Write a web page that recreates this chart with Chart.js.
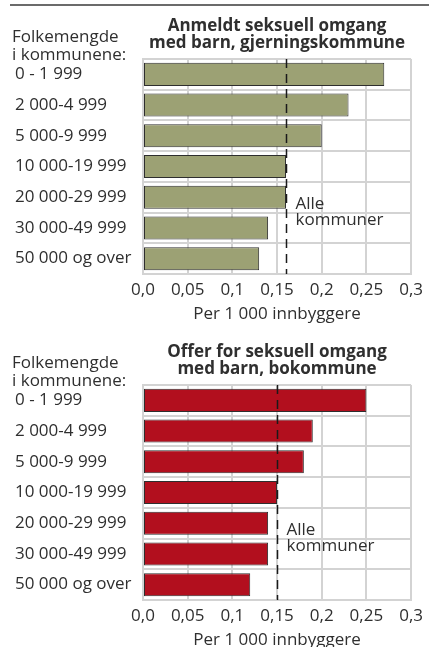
<!DOCTYPE html>
<html lang="no">
<head>
  <meta charset="UTF-8">
  <title>Seksuell omgang med barn</title>
  <script src="https://cdn.jsdelivr.net/npm/chart.js"></script>
  <style>
    body {
      margin: 0;
      padding: 0;
      background: #fff;
      width: 429px;
      height: 647px;
      overflow: hidden;
      position: relative;
      font-family: "Open Sans", sans-serif;
    }
    .rule {
      position: absolute;
      left: 10px;
      right: 0;
      top: 4px;
      height: 2px;
      background: #6b6b6b;
    }
    .chart-box {
      position: absolute;
      left: 0;
      width: 429px;
      height: 326px;
    }
  </style>
</head>
<body>
  <div class="rule"></div>
  <div class="chart-box" style="top: 0;"><canvas id="anmeldtChart"></canvas></div>
  <div class="chart-box" style="top: 326px;"><canvas id="offerChart"></canvas></div>

  <script>
    // data
    const categories = ['0 - 1 999', '2 000-4 999', '5 000-9 999', '10 000-19 999',
      '20 000-29 999', '30 000-49 999', '50 000 og over'];
    const anmeldtValues = [0.27, 0.23, 0.20, 0.16, 0.16, 0.14, 0.13];
    const offerValues = [0.25, 0.19, 0.18, 0.15, 0.14, 0.14, 0.12];
    const anmeldtAlle = 0.16;
    const offerAlle = 0.15;
    const xTicks = [0, 0.05, 0.1, 0.15, 0.2, 0.25, 0.3];
    const xTickLabels = ['0,0', '0,05', '0,1', '0,15', '0,2', '0,25', '0,3'];
    const anmeldtTitle = ['Anmeldt seksuell omgang', 'med barn, gjerningskommune'];
    const offerTitle = ['Offer for seksuell omgang', 'med barn, bokommune'];
    const leftHeading = ['Folkemengde', 'i kommunene:'];
    const alleLabel = ['Alle', 'kommuner'];
    const xTitle = 'Per 1 000 innbyggere';

    const FONT = '"Open Sans", sans-serif';
    const TEXT = '#2f2f2f';
    const GRID = '#d3d3d3';

    // tegner overskrift, venstre overskrift, stiplet linje og "Alle kommuner"
    const extras = {
      id: 'extras',
      afterDatasetsDraw(chart, args, opts) {
        const ctx = chart.ctx;
        const area = chart.chartArea;
        const x = chart.scales.x;
        ctx.save();

        // stiplet linje for alle kommuner
        const px = Math.round(x.getPixelForValue(opts.alle)) + 0.5;
        ctx.strokeStyle = '#1a1a1a';
        ctx.lineWidth = 1.5;
        ctx.setLineDash([9, 6]);
        ctx.beginPath();
        ctx.moveTo(px, area.top);
        ctx.lineTo(px, area.bottom);
        ctx.stroke();
        ctx.setLineDash([]);

        ctx.fillStyle = TEXT;
        ctx.textBaseline = 'middle';

        ctx.font = '17px ' + FONT;
        ctx.textAlign = 'left';
        ctx.fillText(alleLabel[0], px + 9, area.top + 145);
        ctx.fillText(alleLabel[1], px + 9, area.top + 161);

        ctx.fillText(leftHeading[0], 12, area.top - 22);
        ctx.fillText(leftHeading[1], 12, area.top - 4);

        ctx.font = 'bold 17px ' + FONT;
        ctx.textAlign = 'center';
        const cx = (area.left + area.right) / 2;
        ctx.fillText(opts.title[0], cx, area.top - 33);
        ctx.fillText(opts.title[1], cx, area.top - 16);
        ctx.restore();
      }
    };

    function makeChart(id, values, color, alle, title) {
      const ctx = document.getElementById(id).getContext('2d');
      return new Chart(ctx, {
        type: 'bar',
        data: {
          labels: categories,
          datasets: [{
            data: values,
            backgroundColor: color,
            borderColor: '#2e2e2e',
            borderWidth: 1,
            borderSkipped: false,
            categoryPercentage: 1,
            barPercentage: 0.75
          }]
        },
        options: {
          indexAxis: 'y',
          responsive: false,
          animation: false,
          maintainAspectRatio: false,
          layout: {
            padding: { top: 59, left: 15, right: 14, bottom: 2 }
          },
          plugins: {
            legend: { display: false },
            tooltip: { enabled: false },
            extras: { alle: alle, title: title }
          },
          scales: {
            x: {
              min: 0,
              max: 0.3,
              afterBuildTicks: function(scale) {
                scale.ticks = xTicks.map(function(v) { return { value: v }; });
              },
              afterFit: function(scale) { scale.height = 50; },
              grid: { color: GRID, lineWidth: 2, drawTicks: false },
              border: { color: GRID, width: 2 },
              ticks: {
                color: TEXT,
                font: { family: FONT, size: 17 },
                padding: 6,
                maxRotation: 0,
                callback: function(v, i) { return xTickLabels[i]; }
              },
              title: {
                display: true,
                text: xTitle,
                color: TEXT,
                font: { family: FONT, size: 17 },
                padding: { top: 0, bottom: 0 }
              }
            },
            y: {
              afterFit: function(scale) { scale.width = 128; },
              grid: { color: GRID, lineWidth: 2, drawTicks: false },
              border: { color: GRID, width: 2 },
              ticks: {
                color: TEXT,
                crossAlign: 'far',
                font: { family: FONT, size: 17 }
              }
            }
          }
        },
        plugins: [extras]
      });
    }

    function sizeCanvas(id) {
      const c = document.getElementById(id);
      c.width = 429;
      c.height = 326;
      c.style.width = '429px';
      c.style.height = '326px';
    }
    sizeCanvas('anmeldtChart');
    sizeCanvas('offerChart');

    makeChart('anmeldtChart', anmeldtValues, '#9ca174', anmeldtAlle, anmeldtTitle);
    makeChart('offerChart', offerValues, '#b20f1e', offerAlle, offerTitle);
  </script>
</body>
</html>
